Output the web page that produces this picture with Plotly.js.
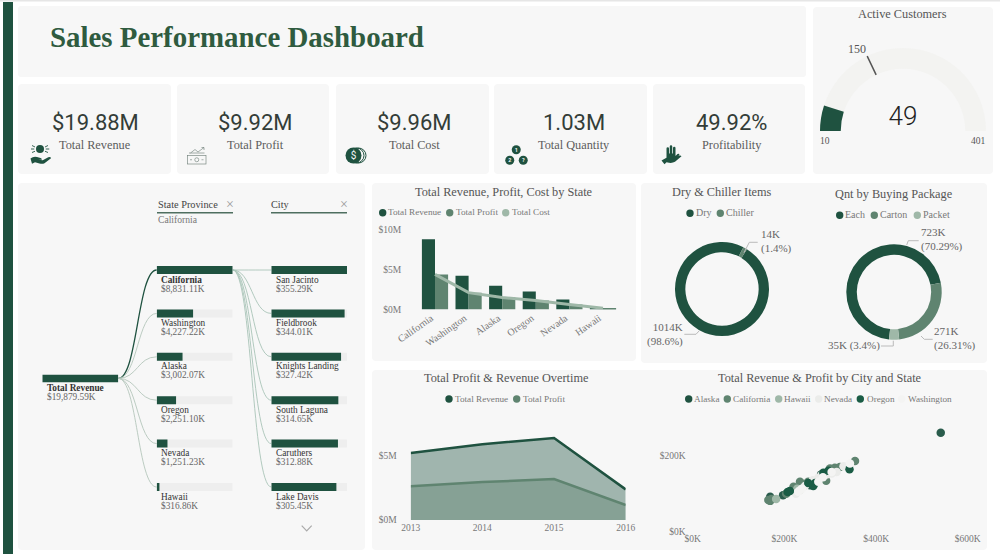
<!DOCTYPE html>
<html><head><meta charset="utf-8">
<script src="https://cdn.plot.ly/plotly-3.0.1.min.js"></script>
<style>html,body{margin:0;padding:0;background:#fff}#chart{width:1000px;height:554px}</style>
</head><body><div id="chart"></div>
<script>
// ---------- data ----------
const kpiLabels = ['Total Revenue','Total Profit','Total Cost','Total Quantity','Profitability'];
const kpiValues = ['$19.88M','$9.92M','$9.96M','1.03M','49.92%'];

const states = ['California','Washington','Alaska','Oregon','Nevada','Hawaii'];
const stateRevenueK = [8831.11,4227.22,3002.07,2251.10,1251.23,316.86];
const stateLabels = ['$8,831.11K','$4,227.22K','$3,002.07K','$2,251.10K','$1,251.23K','$316.86K'];
const totalRevenueK = 19879.59;
const cities = ['San Jacinto','Fieldbrook','Knights Landing','South Laguna','Caruthers','Lake Davis'];
const cityRevenueK = [355.29,344.01,327.42,314.65,312.88,305.45];

const barRevenueM = [8.83,4.23,3.00,2.25,1.25,0.32];
const barProfitM  = [4.41,2.11,1.50,1.12,0.62,0.16];
const barCostM    = [4.42,2.12,1.50,1.13,0.63,0.16];

const dryLabels = ['Dry','Chiller'];
const dryValues = [1014,14];
const packLabels = ['Each','Carton','Packet'];
const packValues = [723,271,35];

const years = [2013,2014,2015,2016];
const yearRevenueM = [5.22,5.90,6.38,2.38];
const yearProfitM  = [2.62,2.95,3.18,1.17];

const scatterAlaskaX = [541,169,259.5,299.5,197,256,280], scatterAlaskaY = [260,92,127,162,96,122,150];
const scatterCaliforniaX = [354,165,220,234,299.5,321,291,252,169,276,243,310,172,204], scatterCaliforniaY = [186,83,118,131,166,170,134,131,81,140,125,168,86,100];
const scatterHawaiiX = [182,228], scatterHawaiiY = [86,113];
const scatterNevadaX = [274,234,245,314,329,281,225,262,292,303], scatterNevadaY = [142,109,120,157,172,148,100,135,150,153];
const scatterOregonX = [342,207,267,285,212,263,296,252], scatterOregonY = [164,104,128,155,107,120,160,128];
const scatterWashingtonX = [230,303,274,343,284,238], scatterWashingtonY = [105,157,131,179,143,113];

const gaugeMin = 10, gaugeMax = 401, gaugeValue = 49, gaugeTarget = 150;

// ---------- style ----------
const DARK='#1f5240', MID='#5f8470', LIGHT='#9fb8a8', PALE='#ebecea', NEAR='#f4f4f3', PANEL='#f7f7f7';
const SERIF='"Liberation Serif", serif', SANS='Roboto, sans-serif';
const px=x=>x/1000, py=y=>1-y/554;
const domX=(a,b)=>[px(a),px(b)], domY=(top,bottom)=>[py(bottom),py(top)];

const shapes=[], annotations=[], images=[];
function T(x,y,text,o={}){const dx=o.a==='left'?-1:o.a==='right'?1:0;
  annotations.push({xref:'paper',yref:'paper',x:px(x+dx),y:py(y-0.5),text,showarrow:false,
  xanchor:o.a||'center',yanchor:'middle',align:o.al||(o.a==='right'?'right':o.a==='left'?'left':'center'),
  borderpad:0,font:{family:o.f||SERIF,size:o.s||11,color:o.c||'#666'}});}
function rr(x0,y0,x1,y1,r=4,color=PANEL){const X=px,Y=py;
  shapes.push({type:'path',xref:'paper',yref:'paper',layer:'below',fillcolor:color,line:{width:0},
   path:`M${X(x0+r)} ${Y(y0)}L${X(x1-r)} ${Y(y0)}Q${X(x1)} ${Y(y0)} ${X(x1)} ${Y(y0+r)}L${X(x1)} ${Y(y1-r)}Q${X(x1)} ${Y(y1)} ${X(x1-r)} ${Y(y1)}L${X(x0+r)} ${Y(y1)}Q${X(x0)} ${Y(y1)} ${X(x0)} ${Y(y1-r)}L${X(x0)} ${Y(y0+r)}Q${X(x0)} ${Y(y0)} ${X(x0+r)} ${Y(y0)}Z`});}
function poly(pts,color='#bbb',w=1){shapes.push({type:'path',xref:'paper',yref:'paper',line:{color,width:w},
  path:pts.map((p,i)=>(i?'L':'M')+px(p[0])+' '+py(p[1])).join('')});}
function link(x0,y0,x1,y1,color,w){const m=(x0+x1)/2;shapes.push({type:'path',xref:'paper',yref:'paper',layer:'below',line:{color,width:w},
  path:`M${px(x0)} ${py(y0)}C${px(m)} ${py(y0)} ${px(m)} ${py(y1)} ${px(x1)} ${py(y1)}`});}
function dot(x,y,color,r=3.7){shapes.push({type:'circle',xref:'paper',yref:'paper',fillcolor:color,line:{width:0},
  x0:px(x-r),x1:px(x+r),y0:py(y+r),y1:py(y-r)});}
function legend(y,items,s=9.2){items.forEach(it=>{dot(it[0],y,it[3]);T(it[1],y,it[2],{a:'left',s,c:'#777'});});}
function icon(x,y,w,h,svg){images.push({source:'data:image/svg+xml,'+encodeURIComponent(`<svg xmlns="http://www.w3.org/2000/svg" viewBox="0 0 ${w*4} ${h*4}" width="${w*4}" height="${h*4}">${svg}</svg>`),
  xref:'paper',yref:'paper',x:px(x),y:py(y),sizex:w/1000,sizey:h/554,xanchor:'left',yanchor:'top',sizing:'stretch',layer:'above'});}

// ---------- panels ----------
shapes.push({type:'rect',xref:'paper',yref:'paper',layer:'below',x0:0,x1:1,y0:py(1.5),y1:1,fillcolor:'#e6e6e6',line:{width:0}});
shapes.push({type:'rect',xref:'paper',yref:'paper',layer:'below',x0:px(3),x1:px(13),y0:0,y1:py(2),fillcolor:DARK,line:{width:0}});
rr(18,6,806,77,3);
[[18,171],[177,329],[336,489],[494,647],[653,805]].forEach(p=>rr(p[0],84,p[1],174));
rr(813,7,993,174);
rr(18,183,365,550);
rr(372,183,636,361);
rr(641,183,987,363);
rr(372,370,987,550);

// ---------- texts ----------
T(50,37.5,'<b>Sales Performance Dashboard</b>',{a:'left',s:28.9,c:'#2f5b3f'});
[95.3,255,414,574,731.5].forEach((x,i)=>{
  T(x,122.5,kpiValues[i],{f:SANS,s:22,c:'#333d38'});
  T(x,145.5,kpiLabels[i],{s:12.3,c:'#5c5c5c'});
});
T(902.7,14.7,'Active Customers',{s:12.3,c:'#555'});
T(856.7,49.7,String(gaugeTarget),{s:12,c:'#555'});
T(825,141.7,String(gaugeMin),{s:9.5,c:'#555'});
T(978.3,141.7,String(gaugeMax),{s:9.5,c:'#555'});

T(504,192,'Total Revenue, Profit, Cost by State',{s:12.3,c:'#555'});
legend(212.7,[[382.7,388.3,'Total Revenue',DARK],[449.7,456,'Total Profit',MID],[505.7,511.7,'Total Cost',LIGHT]]);

T(722,192,'Dry & Chiller Items',{s:12.3,c:'#555'});
legend(213.3,[[690,696,dryLabels[0],DARK],[720.3,726,dryLabels[1],MID]],10);
T(894.3,194,'Qnt by Buying Package',{s:12.3,c:'#555'});
legend(215.3,[[839.7,845.3,packLabels[0],DARK],[874.3,880.3,packLabels[1],MID],[917.3,922.7,packLabels[2],LIGHT]],10);

T(761,242,'14K<br>(1.4%)',{a:'left',s:11,c:'#666'});
T(682.7,335,'1014K<br>(98.6%)',{a:'right',s:11,c:'#666'});
T(921,240,'723K<br>(70.29%)',{a:'left',s:11,c:'#666'});
T(934.3,339,'271K<br>(26.31%)',{a:'left',s:11,c:'#666'});
T(880.3,346,'35K (3.4%)',{a:'right',s:11,c:'#666'});
poly([[744,252.7],[749.3,242.3],[757.7,242.3]]);
poly([[684.3,334.3],[696,334.3],[699.3,330.7]]);
poly([[906.7,245],[908.3,240.7],[918.7,240.7]]);
poly([[921,336],[924.3,339.3],[932.7,339.3]]);
poly([[881,346],[893.3,346],[893.3,340.7]]);

T(506,378.3,'Total Profit & Revenue Overtime',{s:12.3,c:'#555'});
legend(399,[[449,454.7,'Total Revenue',DARK],[516.7,522.7,'Total Profit',MID]]);
T(820,378.3,'Total Revenue & Profit by City and State',{s:12.3,c:'#555'});
legend(399,[[688.7,694.3,'Alaska',DARK],[727.3,733.3,'California',MID],[778.7,784.3,'Hawaii',LIGHT],[818.7,824.3,'Nevada',PALE],[860.3,866.7,'Oregon','#1a5c45'],[901.7,908.3,'Washington',NEAR]]);

// ---------- decomposition tree ----------
const rowY=[270,313.4,356.8,400.2,443.6,487];
const rootBar=[42.3,118.3], stateBar=[156.7,232.7], cityBar=[271.3,347];
T(157.7,205,'State Province',{a:'left',s:10.3,c:'#444'});
T(271.3,205,'City',{a:'left',s:10.3,c:'#444'});
T(230,205,'×',{s:14,c:'#999'});
T(343.7,205,'×',{s:14,c:'#999'});
T(157.7,220,'California',{a:'left',s:9.6,c:'#777'});
poly([[157,212.8],[233,212.8]],'#4f6f60',1.5);
poly([[271,212.8],[347,212.8]],'#4f6f60',1.5);
poly([[301.7,525.7],[306.7,531],[311.7,525.7]],'#aaa',1.2);
T(46.7,388.5,'<b>Total Revenue</b>',{a:'left',s:9.3,c:'#333'});
T(46.7,397.7,'$'+totalRevenueK.toLocaleString('en-US',{minimumFractionDigits:2})+'K',{a:'left',s:9.3,c:'#666'});
states.forEach((s,i)=>{
  T(161,rowY[i]+10,i===0?'<b>'+s+'</b>':s,{a:'left',s:9.3,c:'#333'});
  T(161,rowY[i]+19,stateLabels[i],{a:'left',s:9.3,c:'#666'});
  link(rootBar[1],378.4,stateBar[0],rowY[i],i===0?DARK:'#b4c6bb',i===0?1.3:0.9);
});
cities.forEach((c,i)=>{
  T(275.7,rowY[i]+10,c,{a:'left',s:9.3,c:'#333'});
  T(275.7,rowY[i]+19,'$'+cityRevenueK[i].toFixed(2)+'K',{a:'left',s:9.3,c:'#666'});
  link(stateBar[1],270,cityBar[0],rowY[i],'#a9c4b8',0.9);
});

// ---------- icons ----------
const ic=DARK;
icon(30,143,22,22,`<g fill="${ic}" stroke="none"><circle cx="40" cy="24" r="16"/><path d="M2 62 q12 -10 26 -6 l14 4 q7 2 5 7 l-14 0 l18 2 l22 -12 q10 -3 11 4 l-26 20 q-8 4 -20 1 l-18 -5 l-12 6 z"/></g><g stroke="${ic}" stroke-width="3.5" fill="none"><path d="M4 24h13M63 24h14M8 10l12 6M72 10l-12 6M8 38l12 -5M72 38l-12 -5"/></g>`);
icon(187,146,20,19,`<g fill="none" stroke="#6f7f78" stroke-width="2.5"><rect x="2" y="38" width="74" height="34"/><path d="M8 28 h62 M14 28 l18 -14 l12 10 l24 -18 M58 6 h10 v10"/><circle cx="39" cy="55" r="8"/><path d="M12 55h8M58 55h8"/></g>`);
icon(344,146,24,19,`<g fill="none" stroke="${ic}" stroke-width="4"><circle cx="50" cy="38" r="30"/><circle cx="58" cy="38" r="30"/></g><circle cx="38" cy="38" r="32" fill="${ic}"/><text x="38" y="52" font-family="Roboto" font-size="40" text-anchor="middle" fill="#f6f6f6">$</text>`);
icon(505,145,23,21,`<g fill="${ic}"><circle cx="45" cy="19" r="18"/><circle cx="19" cy="61" r="18"/><circle cx="73" cy="61" r="18"/></g><g font-family="Roboto" font-size="22" font-weight="700" text-anchor="middle" fill="#f6f6f6"><text x="45" y="27">1</text><text x="19" y="69">2</text><text x="73" y="69">?</text></g>`);
icon(661,145,22,21,`<g fill="${ic}"><path d="M22 34 V14 q0 -5 5 -5 q5 0 5 5 V34 h3 V6 q0 -5 5 -5 q5 0 5 5 V34 h3 V12 q0 -5 5 -5 q5 0 5 5 V44 l8 -8 q4 -3 7 0 v4 l-16 20 H26 q-6 -8 -4 -16 z"/><path d="M2 62 l18 -10 q6 -2 10 2 h18 l26 -12 q6 -1 8 3 l-26 22 q-10 6 -24 4 l-10 -2 l-8 8 z"/></g>`);

// ---------- traces ----------
const data=[
 {type:'bar',name:'Total Revenue',x:states,y:barRevenueM,xaxis:'x',yaxis:'y',marker:{color:DARK},width:0.39,offset:-0.39},
 {type:'bar',name:'Total Profit',x:states,y:barProfitM,xaxis:'x',yaxis:'y',marker:{color:MID},width:0.39,offset:0},
 {type:'scatter',mode:'lines',name:'Total Cost',x:states,y:barCostM,xaxis:'x',yaxis:'y',line:{color:LIGHT,width:3}},

 {type:'scatter',mode:'lines',name:'Total Revenue',x:years,y:yearRevenueM,xaxis:'x2',yaxis:'y2',fill:'tozeroy',fillcolor:'rgba(31,82,64,0.4)',line:{color:DARK,width:2.5}},
 {type:'scatter',mode:'lines',name:'Total Profit',x:years,y:yearProfitM,xaxis:'x2',yaxis:'y2',fill:'tozeroy',fillcolor:'rgba(95,132,112,0.4)',line:{color:MID,width:2.5}},

 ...[['Alaska',scatterAlaskaX,scatterAlaskaY,'#2a5c4c'],['California',scatterCaliforniaX,scatterCaliforniaY,MID],['Hawaii',scatterHawaiiX,scatterHawaiiY,LIGHT],
     ['Nevada',scatterNevadaX,scatterNevadaY,PALE],['Oregon',scatterOregonX,scatterOregonY,'#1a5c45'],['Washington',scatterWashingtonX,scatterWashingtonY,NEAR]]
   .map(s=>({type:'scatter',mode:'markers',name:s[0],x:s[1],y:s[2],xaxis:'x3',yaxis:'y3',marker:{color:s[3],size:8.5}})),

 {type:'bar',orientation:'h',x:states.map(()=>Math.max(...stateRevenueK)),y:states,xaxis:'x4',yaxis:'y4',marker:{color:'#eeeeee'},width:0.184,offset:-0.092},
 {type:'bar',orientation:'h',x:stateRevenueK,y:states,xaxis:'x4',yaxis:'y4',marker:{color:DARK},width:0.184,offset:-0.092},
 {type:'bar',orientation:'h',x:cities.map(()=>Math.max(...cityRevenueK)),y:cities,xaxis:'x5',yaxis:'y5',marker:{color:'#eeeeee'},width:0.184,offset:-0.092},
 {type:'bar',orientation:'h',x:cityRevenueK,y:cities,xaxis:'x5',yaxis:'y5',marker:{color:DARK},width:0.184,offset:-0.092},
 {type:'bar',orientation:'h',x:[totalRevenueK],y:['Total Revenue'],xaxis:'x6',yaxis:'y6',marker:{color:DARK},width:1,offset:-0.5},

 {type:'pie',labels:dryLabels,values:dryValues,hole:0.78,sort:false,direction:'clockwise',rotation:32,textinfo:'none',automargin:false,
  marker:{colors:[DARK,MID],line:{width:0}},domain:{x:domX(675,769),y:domY(242,336)}},
 {type:'pie',labels:packLabels,values:packValues,hole:0.78,sort:false,direction:'clockwise',rotation:186,textinfo:'none',automargin:false,
  marker:{colors:[DARK,MID,LIGHT],line:{width:0}},domain:{x:domX(846.3,941.7),y:domY(244.3,339.7)}},

 {type:'indicator',mode:'gauge+number',value:gaugeValue,domain:{x:domX(820,986),y:domY(48,131)},
  number:{font:{family:SANS,size:26,color:'#222',weight:300}},
  gauge:{shape:'angular',axis:{range:[gaugeMin,gaugeMax],visible:false},bar:{color:DARK,thickness:1},bgcolor:'#f3f3f1',borderwidth:0,
   threshold:{line:{color:'#555',width:1.5},thickness:1,value:gaugeTarget}}}
];

const tickFont={family:SERIF,size:9.5,color:'#777'};
const hidden={visible:false,fixedrange:true};
const layout={
 width:1000,height:554,margin:{l:0,r:0,t:0,b:0},paper_bgcolor:'#ffffff',plot_bgcolor:'rgba(0,0,0,0)',showlegend:false,hovermode:false,
 font:{family:SERIF},barmode:'overlay',shapes,annotations,images,
 xaxis:{domain:domX(418.2,619.8),type:'category',range:[-0.5,5.5],tickangle:-35,ticklabelshift:-4,tickfont:{...tickFont,size:10},showgrid:false,zeroline:false,showline:false,ticks:'',fixedrange:true},
 yaxis:{domain:domY(230,309.5),range:[0,10],tickvals:[0,5,10],ticktext:['$0M','$5M','$10M'],tickfont:tickFont,showgrid:false,zeroline:false,ticks:'',ticklabelstandoff:16,fixedrange:true},
 xaxis2:{domain:domX(410.7,625.7),anchor:'y2',range:[2013,2016],tickvals:years,tickfont:tickFont,showgrid:false,zeroline:false,ticks:'',fixedrange:true},
 yaxis2:{domain:domY(430,520),anchor:'x2',range:[0,7],tickvals:[0,5],ticktext:['$0M','$5M'],tickfont:tickFont,showgrid:false,zeroline:false,ticks:'',ticklabelstandoff:13,fixedrange:true},
 xaxis3:{domain:domX(692.7,982),anchor:'y3',range:[0,631],tickvals:[0,200,400,600],ticktext:['$0K','$200K','$400K','$600K'],tickfont:tickFont,showgrid:false,zeroline:false,ticks:'',fixedrange:true},
 yaxis3:{domain:domY(417.5,531.7),anchor:'x3',range:[0,300],tickvals:[0,200],ticktext:['$0K','$200K'],tickfont:tickFont,showgrid:false,zeroline:false,ticks:'',ticklabelstandoff:6,fixedrange:true},
 xaxis4:{...hidden,domain:domX(stateBar[0],stateBar[1]),anchor:'y4',range:[0,Math.max(...stateRevenueK)]},
 yaxis4:{...hidden,domain:domY(248.3,508.7),anchor:'x4',type:'category',categoryorder:'array',categoryarray:states,range:[5.5,-0.5]},
 xaxis5:{...hidden,domain:domX(cityBar[0],cityBar[1]),anchor:'y5',range:[0,Math.max(...cityRevenueK)]},
 yaxis5:{...hidden,domain:domY(248.3,508.7),anchor:'x5',type:'category',categoryorder:'array',categoryarray:cities,range:[5.5,-0.5]},
 xaxis6:{...hidden,domain:domX(rootBar[0],rootBar[1]),anchor:'y6',range:[0,totalRevenueK]},
 yaxis6:{...hidden,domain:domY(374.4,382.4),anchor:'x6',type:'category',range:[-0.5,0.5]}
};
Plotly.newPlot('chart',data,layout,{displayModeBar:false,responsive:false});
</script></body></html>
